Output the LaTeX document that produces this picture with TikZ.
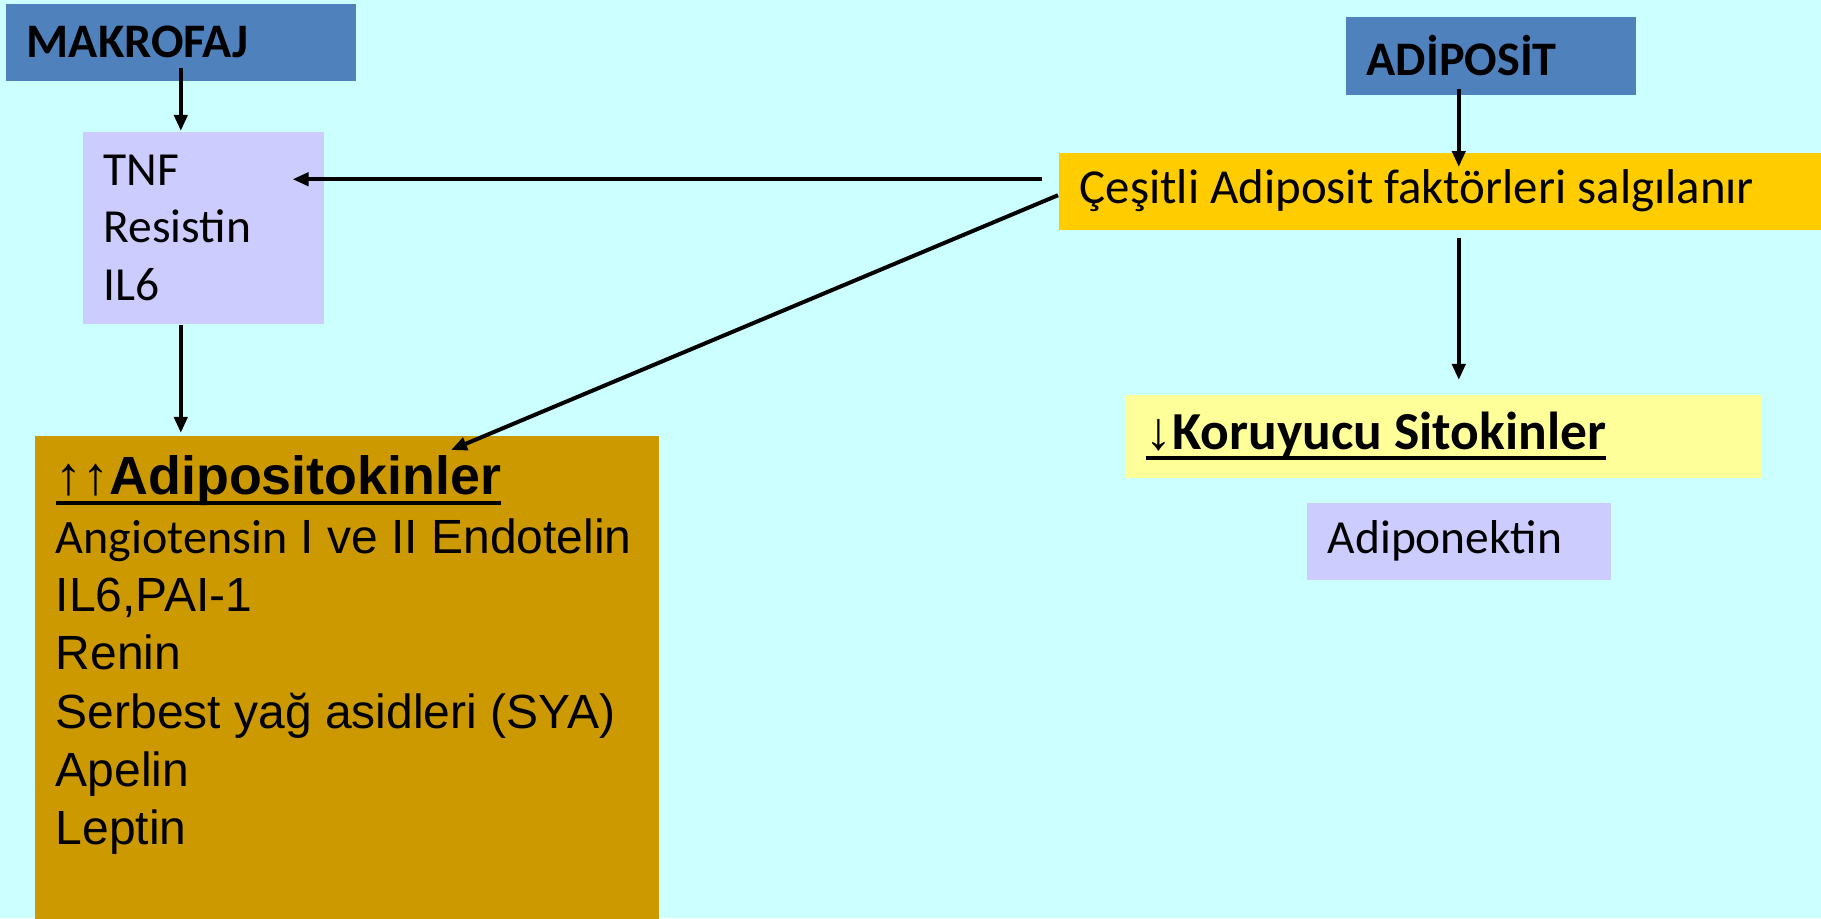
\documentclass[tikz,border=0pt]{standalone}
\usepackage{fontspec}
\setmainfont{Carlito}
\newfontfamily\arialfont{Liberation Sans}
\usetikzlibrary{arrows.meta,positioning}

\definecolor{bgcyan}{HTML}{CCFFFF}
\definecolor{cellblue}{HTML}{4F81BD}
\definecolor{lilac}{HTML}{CCCCFF}
\definecolor{ochre}{HTML}{CC9900}
\definecolor{amber}{HTML}{FFCC00}
\definecolor{cream}{HTML}{FFFF99}

\newlength\ulwd
\newcommand\thickul[1]{\leavevmode\settowidth\ulwd{#1}\rlap{\rule[-0.10cm]{\ulwd}{0.04cm}}#1}

\begin{document}
\begin{tikzpicture}[x=0.01cm, y=-0.01cm,
    box/.style={anchor=north west, inner xsep=0.21cm, inner ysep=0pt, align=flush left,
      font=\fontsize{13.5}{16.3}\selectfont},
    cell/.style={box, fill=cellblue, font=\fontsize{13.7}{16}\selectfont\bfseries},
    >={Triangle[length=0.16cm,width=0.13cm]},
    arr/.style={->, line width=0.04cm}]
  \fill[bgcyan] (0,0) rectangle (1821,918);
  \useasboundingbox (0,0) rectangle (1821,918);

  % left side
  \node[cell, text width=3.08cm, minimum height=0.77cm] (mak) at (5,3) {MAKROFAJ};
  \node[box, fill=lilac, text width=1.99cm, minimum height=1.92cm] (tnf) at (82,131)
    {TNF\\Resistin\\IL6};
  \node[box, fill=ochre, inner ysep=0.2cm, text width=5.82cm,
    font=\arialfont\fontsize{13.65}{16.6}\selectfont] (adipo) at (34,435)
    {\parbox[t][4.9cm][t]{5.82cm}{%
      {\fontsize{15.3}{16.6}\selectfont\thickul{↑↑\textbf{Adipositokinler}}}\\
      {\normalfont\fontsize{13.65}{16.6}\selectfont Angiotensin} I ve II Endotelin\\
      IL6,PAI-1\\
      Renin\\
      Serbest yağ asidleri (SYA)\\
      Apelin\\
      Leptin}};

  % right side
  \node[cell, text width=2.48cm, minimum height=0.78cm] (adi) at (1345,16) {ADİPOSİT};
  \node[box, fill=amber, text width=7.28cm, minimum height=0.77cm,
    font=\fontsize{13.9}{16.3}\selectfont] (ces) at (1058,152)
    {Çeşitli Adiposit faktörleri salgılanır};
  \node[box, fill=cream, text width=5.94cm, minimum height=0.83cm,
    font=\fontsize{15.2}{18}\selectfont\bfseries] (kor) at (1124,394)
    {\thickul{{\arialfont\mdseries ↓}Koruyucu Sitokinler}};
  \node[box, fill=lilac, text width=2.62cm, minimum height=0.77cm] (adn) at (1306,502)
    {Adiponektin};

  \coordinate (h0) at ([shift={(-16,-12)}]ces.west);
  \coordinate (v0) at ([shift={(-32,0)}]adi.south);

  \draw[arr] ([yshift=0.13cm]mak.south) -- (mak.south |- tnf.north);
  \draw[arr] (mak.south |- tnf.south) -- ([yshift=0.02cm]mak.south |- adipo.north);
  \draw[arr] (h0) -- ([xshift=-0.32cm]tnf.east |- h0);
  \draw[arr] ([shift={(0,4)}]ces.west) -- ([shift={(417,15)}]adipo.north west);
  \draw[arr] ([yshift=0.06cm]v0) -- ([yshift=-0.15cm]v0 |- ces.north);
  \draw[arr] ([yshift=-0.08cm]v0 |- ces.south) -- ([yshift=0.14cm]v0 |- kor.north);
\end{tikzpicture}
\end{document}
